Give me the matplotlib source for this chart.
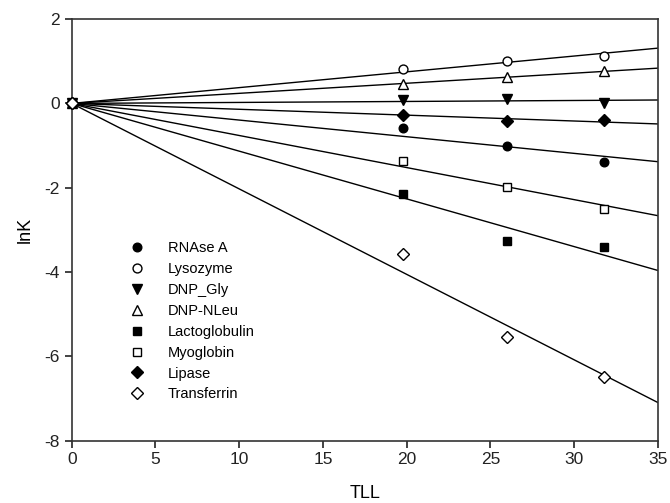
import numpy as np
import matplotlib
matplotlib.use("Agg")
import matplotlib.pyplot as plt
from matplotlib.lines import Line2D

plt.rcParams['font.family'] = ['Liberation Sans', 'DejaVu Sans']
plt.rcParams['axes.unicode_minus'] = False

tll = [0.0, 19.8, 26.0, 31.8]
names = ["RNAse A", "Lysozyme", "DNP_Gly", "DNP-NLeu", "Lactoglobulin",
         "Myoglobin", "Lipase", "Transferrin"]
rnase = [0.0, -0.59, -1.01, -1.39]
lysozyme = [0.0, 0.81, 1.01, 1.12]
dnp_gly = [0.0, 0.08, 0.10, 0.02]
dnp_nleu = [0.0, 0.46, 0.62, 0.77]
lactoglobulin = [0.0, -2.15, -3.26, -3.40]
myoglobin = [0.0, -1.36, -1.98, -2.51]
lipase = [0.0, -0.28, -0.41, -0.40]
transferrin = [0.0, -3.58, -5.54, -6.50]
series = [rnase, lysozyme, dnp_gly, dnp_nleu, lactoglobulin, myoglobin, lipase, transferrin]

styles = [
    dict(marker='o', mfc='black', ms=6.2),
    dict(marker='o', mfc='white', ms=6.4),
    dict(marker='v', mfc='black', ms=7),
    dict(marker='^', mfc='white', ms=7),
    dict(marker='s', mfc='black', ms=5.8),
    dict(marker='s', mfc='white', ms=5.8),
    dict(marker='D', mfc='black', ms=5.8),
    dict(marker='D', mfc='white', ms=5.8),
]

fig = plt.figure(figsize=(6.7, 5.03), dpi=100)
ax = fig.add_axes([0.107, 0.124, 0.875, 0.838])

x = np.array(tll)
xfit = np.array([0.0, 35.0])
handles = []
for name, y, st in zip(names, series, styles):
    y = np.array(y)
    slope = np.sum(x * y) / np.sum(x * x)
    ax.plot(xfit, slope * xfit, color='black', lw=1.0, zorder=2)
    ax.plot(x, y, linestyle='none', color='black', mec='black', mew=1.0,
            zorder=3, clip_on=False, **st)
    handles.append(Line2D([], [], linestyle='none', color='black', mec='black',
                          mew=1.0, label=name, **st))

ax.set_xlim(0, 35)
ax.set_ylim(-8, 2)
ax.set_xticks([0, 5, 10, 15, 20, 25, 30, 35])
ax.set_yticks([-8, -6, -4, -2, 0, 2])
ax.tick_params(axis='both', direction='out', length=5, width=1.2,
               labelsize=12.5, top=False, right=False, colors='#222222')
for s in ax.spines.values():
    s.set_linewidth(1.2)
    s.set_color('#333333')

ax.set_xlabel('TLL', fontsize=13, labelpad=13)
ax.set_ylabel('lnK', fontsize=13, labelpad=8)

leg = ax.legend(handles=handles, loc='upper left', frameon=False,
                bbox_to_anchor=(0.087, 0.49), fontsize=10.5,
                handlelength=1.0, handletextpad=1.6, labelspacing=0.47,
                borderpad=0)
fig.savefig('out.png', dpi=100)
